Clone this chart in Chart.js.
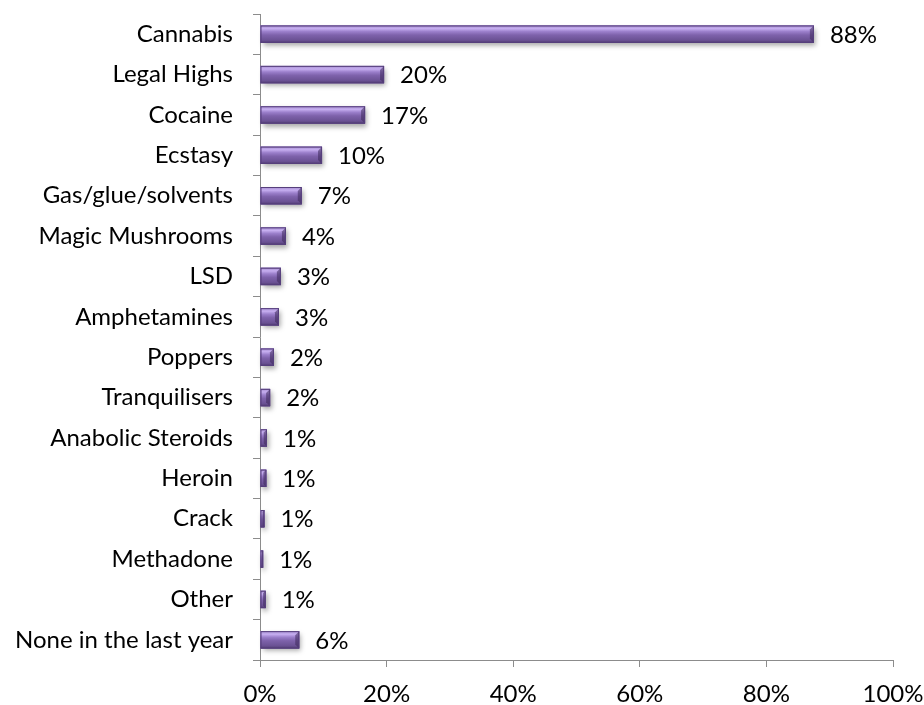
<!DOCTYPE html>
<html>
<head>
<meta charset="utf-8">
<script src="https://cdn.jsdelivr.net/npm/chart.js@4.4.1/dist/chart.umd.min.js"></script>
<style>
  html, body { margin: 0; padding: 0; background: #fff; }
  #wrap { width: 924px; height: 705px; }
</style>
</head>
<body>
<div id="wrap"><canvas id="chart" width="924" height="705"></canvas></div>
<script>
const categories = ['Cannabis', 'Legal Highs', 'Cocaine', 'Ecstasy', 'Gas/glue/solvents',
  'Magic Mushrooms', 'LSD', 'Amphetamines', 'Poppers', 'Tranquilisers',
  'Anabolic Steroids', 'Heroin', 'Crack', 'Methadone', 'Other', 'None in the last year'];
const shares = [87.5, 19.6, 16.6, 9.8, 6.6, 4.1, 3.3, 3.0, 2.2, 1.6, 1.1, 1.0, 0.7, 0.5, 0.9, 6.2];
const shareLabels = ['88%', '20%', '17%', '10%', '7%', '4%', '3%', '3%', '2%', '2%', '1%', '1%', '1%', '1%', '1%', '6%'];
const xTicks = [0, 20, 40, 60, 80, 100];

const FONT = 'Lato, "Open Sans", sans-serif';

// ── bevel look for each bar, drawn from the bar elements' own geometry ──
const bevelBars = {
  id: 'bevelBars',
  beforeDatasetsDraw(chart) {
    const ctx = chart.ctx;
    ctx.save();
    chart.getDatasetMeta(0).data.forEach(el => {
      const { x, y, base, height } = el.getProps(['x', 'y', 'base', 'height'], true);
      ctx.shadowColor = 'rgba(0,0,0,0.35)';
      ctx.shadowBlur = 5;
      ctx.shadowOffsetX = 2;
      ctx.shadowOffsetY = 3;
      ctx.fillStyle = '#6b5394';
      ctx.fillRect(base, y - height / 2, x - base, height);
    });
    ctx.restore();
  },
  afterDatasetsDraw(chart) {
    const ctx = chart.ctx;
    ctx.save();
    chart.getDatasetMeta(0).data.forEach(el => {
      const { x, y, base, height } = el.getProps(['x', 'y', 'base', 'height'], true);
      const top = y - height / 2, w = x - base, h = height;
      const g = ctx.createLinearGradient(0, top, 0, top + h);
      g.addColorStop(0, '#a58ccf');
      g.addColorStop(0.18, '#c6aef0');
      g.addColorStop(0.35, '#9b7fcb');
      g.addColorStop(0.55, '#7e62ab');
      g.addColorStop(0.85, '#6a5193');
      g.addColorStop(1, '#4f3b70');
      ctx.fillStyle = g;
      ctx.fillRect(base, top, w, h);
      // right end bevel
      const b = Math.min(4, w / 2);
      ctx.fillStyle = 'rgba(60,40,90,0.55)';
      ctx.beginPath();
      ctx.moveTo(x - b, top + b);
      ctx.lineTo(x, top);
      ctx.lineTo(x, top + h);
      ctx.lineTo(x - b, top + h - b);
      ctx.closePath();
      ctx.fill();
      ctx.strokeStyle = '#563f7c';
      ctx.lineWidth = 1;
      ctx.strokeRect(base + 0.5, top + 0.5, w - 1, h - 1);
    });
    ctx.restore();
  }
};

// ── percentage labels after each bar ──
const valueLabels = {
  id: 'valueLabels',
  afterDatasetsDraw(chart) {
    const ctx = chart.ctx;
    ctx.save();
    ctx.font = '24px ' + FONT;
    ctx.fillStyle = '#000';
    ctx.textBaseline = 'middle';
    ctx.textAlign = 'left';
    chart.getDatasetMeta(0).data.forEach((el, i) => {
      ctx.fillText(shareLabels[i], el.x + 16, el.y + 1);
    });
    ctx.restore();
  }
};

new Chart(document.getElementById('chart'), {
  type: 'bar',
  data: {
    labels: categories,
    datasets: [{
      data: shares,
      backgroundColor: '#7e62ab',
      borderWidth: 0,
      categoryPercentage: 1,
      barPercentage: 0.43
    }]
  },
  options: {
    indexAxis: 'y',
    responsive: false,
    animation: false,
    layout: { padding: { top: 14, right: 31, bottom: 0, left: 0 } },
    plugins: { legend: { display: false }, tooltip: { enabled: false } },
    scales: {
      x: {
        min: 0, max: 100,
        afterBuildTicks(scale) { scale.ticks = xTicks.map(v => ({ value: v })); },
        afterFit(scale) {
          scale.height = 45;
          scale.paddingLeft = 0;
          scale.paddingRight = 0;
        },
        grid: { drawOnChartArea: false, tickLength: 7, color: '#8c8c8c', tickColor: '#8c8c8c' },
        border: { color: '#8c8c8c', width: 1 },
        ticks: {
          padding: 13,
          color: '#000',
          font: { family: FONT, size: 24 },
          callback: v => v + '%'
        }
      },
      y: {
        afterFit(scale) {
          scale.width = 260;
          scale.paddingTop = 0;
          scale.paddingBottom = 0;
        },
        grid: { drawOnChartArea: false, offset: true, tickLength: 7, color: '#8c8c8c', tickColor: '#8c8c8c' },
        border: { color: '#8c8c8c', width: 1 },
        ticks: {
          padding: 20,
          color: '#000',
          font: { family: FONT, size: 24 }
        }
      }
    }
  },
  plugins: [bevelBars, valueLabels]
});
</script>
</body>
</html>
